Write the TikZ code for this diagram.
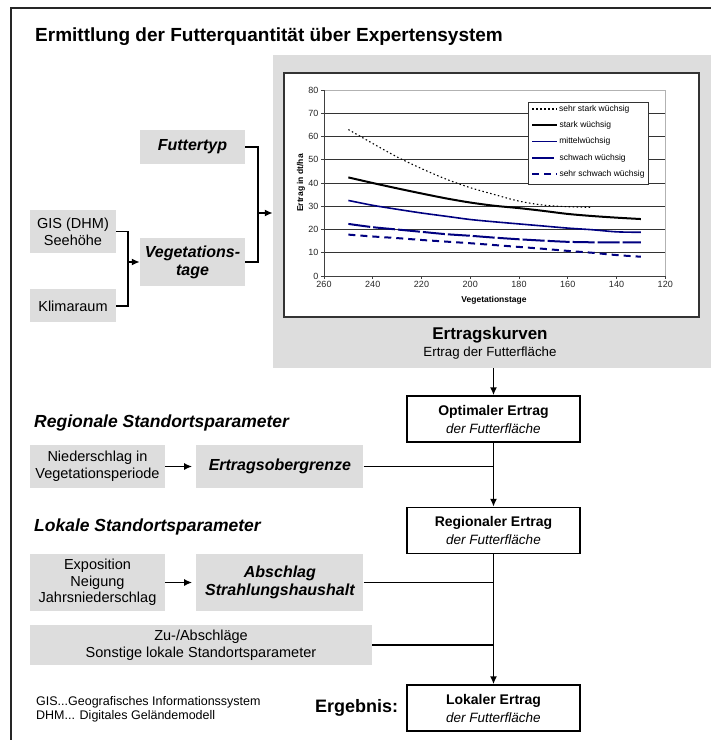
\documentclass[tikz,border=0pt]{standalone}
\usepackage{fontspec}
\setmainfont{Liberation Sans}
\usetikzlibrary{positioning, arrows.meta}
\definecolor{boxgray}{RGB}{221,221,221}
\definecolor{curvenavy}{RGB}{0,0,128}
\newcommand{\derflaeche}{{\fontsize{13.5}{18}\selectfont\mdseries\itshape der Futterfläche}}
\tikzset{
    inbox/.style={rectangle, fill=boxgray, inner sep=0pt, align=center, font=\fontsize{14.5}{16.7}\selectfont},
    kbox/.style={rectangle, fill=boxgray, inner sep=0pt, align=center, font=\fontsize{16}{18}\selectfont\bfseries\itshape},
    result/.style={rectangle, draw=black, line width=1.5pt, fill=white, minimum width=173pt, minimum height=46pt, inner sep=0pt, align=center, font=\fontsize{14}{18}\selectfont\bfseries},
    heading/.style={anchor=west, inner sep=0pt, font=\fontsize{17.5}{20}\selectfont\bfseries\itshape},
    link/.style={line width=1.7pt},
    arr/.style={-{Latex[length=8pt, width=7pt]}},
    ticklabel/.style={font=\fontsize{9}{10}\selectfont, text=black!85, inner sep=2pt},
    axistitle/.style={font=\fontsize{8.5}{10}\selectfont\bfseries, inner sep=0pt},
    legendtext/.style={font=\fontsize{8.5}{10}\selectfont, text=black, anchor=west, inner sep=1.5pt},
    sehrstark/.style={black, line width=1.1pt, dash pattern=on 1.5pt off 2.5pt},
    stark/.style={black, line width=2pt},
    mittel/.style={curvenavy, line width=1.6pt},
    schwach/.style={curvenavy, line width=2pt, dash pattern=on 22pt off 3pt},
    sehrschwach/.style={curvenavy, line width=2pt, dash pattern=on 7pt off 5pt},
}
\begin{document}
\begin{tikzpicture}[x=1pt, y=-1pt]
    \useasboundingbox (0,0) rectangle (711,740);
    \clip (0,0) rectangle (711,740);
    \fill[white] (0,0) rectangle (711,740);
    \draw[line width=1.5pt, black!85] (11,8) rectangle (730,760);

    \node[anchor=base west, inner sep=0pt, font=\fontsize{19}{22}\selectfont\bfseries] (title) at (35,41) {Ermittlung der Futterquantität über Expertensystem};

    % Ertragskurven
    \node[fill=boxgray, minimum width=438pt, minimum height=313pt, inner sep=0pt] (panel) at (492,211.5) {};
    \node[draw=black!80, line width=1.2pt, fill=white, minimum width=415pt, minimum height=244pt, inner sep=0pt] (chart) at (491.5,195) {};
    \begin{scope}[shift={(957.75,276)}, x={(-2.4375pt,0pt)}, y={(0pt,2.325pt)}]
        \foreach \g in {10,20,...,70}
            \draw[black!80, line width=0.9pt] (260,\g) -- (120,\g);
        \draw[black!30, line width=0.8pt] (260,80) -- (120,80) -- (120,0);
        \draw[black!75, line width=1pt] (260,80) -- (260,0) -- (120,0);
        \foreach \g in {0,10,...,80}
            \draw[black!75, line width=1pt] (260,\g) -- ++(-3pt,0pt) node[ticklabel, left] {\g};
        \foreach \v in {260,240,...,120}
            \draw[black!75, line width=1pt] (\v,0) -- ++(0pt,-3pt) node[ticklabel, below] {\v};
        \draw[sehrstark] plot[smooth] coordinates {(250,63) (240,57) (230,51.2) (220,46.2) (210,41.7) (200,38) (190,35) (180,32.2) (170,30.5) (160,29.8) (150,29.5)};
        \draw[stark] plot[smooth] coordinates {(250,42.4) (240,40) (230,37.7) (220,35.5) (210,33.4) (200,31.6) (190,30.2) (180,29.2) (170,28) (160,26.7) (150,25.8) (140,25.1) (130,24.5)};
        \draw[mittel] plot[smooth] coordinates {(250,32.5) (240,30.4) (230,28.7) (220,27.1) (210,25.7) (200,24.3) (190,23.3) (180,22.4) (170,21.5) (160,20.6) (150,19.9) (140,19) (130,18.8)};
        \draw[schwach] plot[smooth] coordinates {(250,22.4) (240,21) (230,20) (220,19) (210,18) (200,17.3) (190,16.5) (180,15.8) (170,15.2) (160,14.7) (150,14.5) (140,14.5) (130,14.5)};
        \draw[sehrschwach] plot[smooth] coordinates {(250,17.8) (240,17) (230,16.3) (220,15.5) (210,14.8) (200,14.1) (190,13.3) (180,12.5) (170,11.7) (160,10.8) (150,10) (140,9) (130,8.3)};
    \end{scope}
    \node[axistitle] (xtitle) at (494,300) {Vegetationstage};
    \node[axistitle, rotate=90] (ytitle) at (301,183) {Ertrag in dt/ha};
    \node[draw=black!80, line width=0.8pt, fill=white, minimum width=120pt, minimum height=82pt, inner sep=0pt] (legend) at (588,143) {};
    \foreach \st/\lab [count=\i] in {sehrstark/sehr stark wüchsig, stark/stark wüchsig, mittel/mittelwüchsig, schwach/schwach wüchsig, sehrschwach/sehr schwach wüchsig}
        \draw[\st] (532,92.7+16.3*\i) -- (557,92.7+16.3*\i) node[legendtext] {\lab};
    \node[font=\fontsize{17}{20}\selectfont\bfseries] (kurven) at (490,335) {Ertragskurven};
    \node[font=\fontsize{13.3}{16}\selectfont] (kurvensub) at (490,353) {Ertrag der Futterfläche};

    % Eingangsgroessen
    \node[kbox, minimum width=105pt, minimum height=34pt] (futtertyp) at (192.5,147) {Futtertyp};
    \node[inbox, minimum width=86pt, minimum height=43pt] (gis) at (73,231.5) {GIS (DHM)\\Seehöhe};
    \node[inbox, minimum width=86pt, minimum height=33pt, below=36pt of gis] (klima) {Klimaraum};
    \node[kbox, minimum width=105pt, minimum height=48pt] (vegtage) at (192.5,262) {Vegetations-\\tage};
    \coordinate (gisjoin) at (128,262);
    \coordinate (kjoin) at (258,213);
    \draw[link] (gis.east) -| (gisjoin) |- (klima.east);
    \draw[link, arr] (gisjoin) -- (vegtage.west);
    \draw[link] (futtertyp.east) -| (kjoin) |- (vegtage.east);
    \draw[link, arr] (kjoin) -- (kjoin -| panel.west);

    % Ertragsstufen
    \node[result] (optimal) at (493.5,419) {Optimaler Ertrag\\\derflaeche};
    \node[result, below=64pt of optimal] (regional) {Regionaler Ertrag\\\derflaeche};
    \node[result, below=130pt of regional] (lokal) {Lokaler Ertrag\\\derflaeche};
    \draw[link, arr] (optimal.north |- panel.south) -- (optimal.north);
    \draw[link, arr] (optimal) -- (regional);
    \draw[link, arr] (regional) -- (lokal);

    % Standortsparameter
    \node[heading] (regtitle) at (34,423) {Regionale Standortsparameter};
    \node[heading] (loktitle) at (34,527) {Lokale Standortsparameter};
    \node[inbox, minimum width=135pt, minimum height=43pt] (niederschlag) at (97.5,466.5) {Niederschlag in\\Vegetationsperiode};
    \node[kbox, minimum width=167pt, minimum height=43pt, right=31pt of niederschlag] (obergrenze) {Ertragsobergrenze};
    \node[inbox, minimum width=135pt, minimum height=57pt] (exposition) at (97.5,582.5) {Exposition\\Neigung\\Jahrsniederschlag};
    \node[kbox, minimum width=167pt, minimum height=57pt, right=31pt of exposition] (abschlag) {Abschlag\\Strahlungshaushalt};
    \node[inbox, minimum width=342pt, minimum height=40pt] (zuab) at (201,645) {Zu-/Abschläge\\Sonstige lokale Standortsparameter};
    \draw[link, arr, shorten >=4pt] (niederschlag) -- (obergrenze);
    \draw[link] (obergrenze) -- (obergrenze -| optimal);
    \draw[link, arr, shorten >=4pt] (exposition) -- (abschlag);
    \draw[link] (abschlag) -- (abschlag -| regional);
    \draw[link] (zuab) -- (zuab -| regional);

    \node[inner sep=0pt, left=8pt of lokal, font=\fontsize{18}{20}\selectfont\bfseries] (ergebnis) {Ergebnis:};
    \node[anchor=north west, inner sep=0pt, align=left, font=\fontsize{12.5}{14}\selectfont] (abbrev) at (36,696) {GIS...Geografisches Informationssystem\\DHM... Digitales Geländemodell};
\end{tikzpicture}
\end{document}
